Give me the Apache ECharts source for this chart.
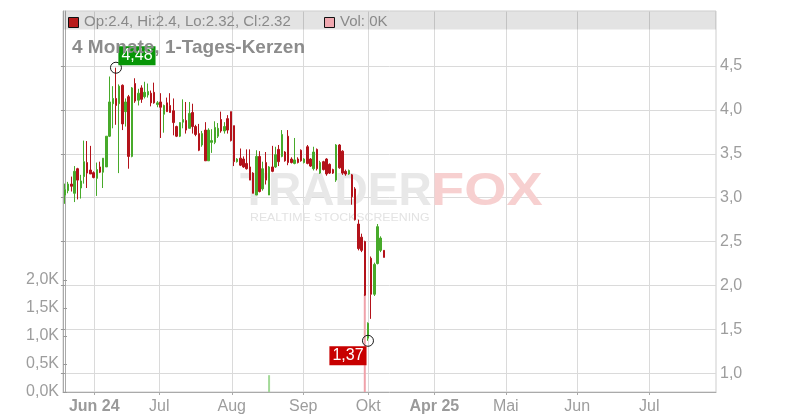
<!DOCTYPE html>
<html><head><meta charset="utf-8">
<script src="https://cdn.jsdelivr.net/npm/echarts@6/dist/echarts.min.js"></script>
<style>html,body{margin:0;padding:0;background:#fff}#c{width:800px;height:420px}</style>
</head><body><div id="c"></div>
<script>
// ---- data (trading-day index = array position) ----
const opens = [3.03,3.08,3.155,3.05,3.33,3.11,3.24,3.40,3.315,3.285, 3.22,3.35,3.29,3.35,3.70,4.07,4.13,4.07,4.28,3.98, 4.15,3.47,4.30,4.11,4.25,4.15,4.17,4.19,4.20,4.06, 4.09,3.95,4.08,4.05,3.99,3.81,3.70,3.86,3.88,3.79, 3.97,3.81,3.73,3.60,3.77,3.42,3.63,3.63,3.70,3.89, 3.76,3.90,3.98,3.82,3.41,3.45,3.44,3.39,3.35,3.28, 3.03,3.47,3.10,3.40,3.03,3.35,3.35,3.55,3.47,3.52, 3.70,3.44,3.39,3.44,3.54,3.40,3.58,3.44,3.33,3.55, 3.28,3.41,3.44,3.38,3.32,3.20,3.60,3.53,3.30,3.27, 3.26,3.10,2.70,2.55,2.50,1.40,2.31,1.90,2.25,2.40, 2.4];
const closes = [3.09,3.155,3.13,3.30,3.20,3.19,3.41,3.28,3.27,3.23, 3.32,3.29,3.45,3.70,4.09,4.13,4.05,4.27,3.84,4.09, 3.47,4.25,4.10,4.19,4.12,4.20,4.21,4.08,4.08,4.08, 4.03,4.05,3.98,3.97,3.855,3.70,3.855,3.89,3.77,3.96, 3.81,3.72,3.54,3.73,3.42,3.77,3.65,3.80,3.79,3.76, 3.81,3.77,3.65,3.41,3.44,3.37,3.35,3.33,3.20,3.05, 3.47,3.07,3.33,3.20,3.35,3.30,3.49,3.41,3.72,3.42, 3.40,3.40,3.43,3.40,3.42,3.44,3.39,3.36,3.52,3.33, 3.40,3.32,3.27,3.28,3.28,3.60,3.34,3.28,3.27,3.31, 3.01,2.75,2.42,2.40,1.89,1.57,1.90,2.24,2.67,2.54, 2.32];
const lows = [2.93,3.05,3.07,2.95,2.98,2.99,3.16,3.11,3.27,3.22, 3.02,3.28,3.11,3.35,3.69,3.79,3.83,3.28,3.77,3.81, 3.33,3.46,4.08,4.05,4.08,4.13,4.14,4.04,4.07,4.03, 3.68,3.74,3.98,3.97,3.71,3.69,3.69,3.79,3.73,3.79, 3.73,3.70,3.53,3.58,3.42,3.42,3.51,3.61,3.68,3.74, 3.73,3.73,3.64,3.36,3.40,3.36,3.34,3.32,3.20,3.05, 3.03,3.06,3.08,3.15,3.03,3.29,3.34,3.36,3.46,3.41, 3.37,3.39,3.38,3.39,3.41,3.39,3.38,3.35,3.31,3.31, 3.27,3.31,3.25,3.27,3.27,3.18,3.33,3.26,3.25,3.26, 2.92,2.74,2.40,2.38,1.88,1.37,1.62,1.88,2.24,2.38, 2.32];
const highs = [3.16,3.18,3.24,3.36,3.34,3.26,3.65,3.645,3.59,3.30, 3.40,3.41,3.45,3.70,4.38,4.27,4.48,4.29,4.29,4.13, 4.17,4.26,4.36,4.24,4.28,4.32,4.30,4.22,4.31,4.10, 4.19,4.06,4.14,4.19,4.13,3.82,3.86,4.12,4.09,4.09, 4.07,3.83,3.84,3.76,3.86,3.79,3.78,3.87,3.85,3.98, 3.86,3.94,3.98,3.82,3.45,3.56,3.47,3.55,3.55,3.29, 3.54,3.53,3.41,3.52,3.36,3.59,3.58,3.60,3.77,3.53, 3.77,3.46,3.68,3.46,3.55,3.45,3.60,3.45,3.58,3.56, 3.42,3.42,3.45,3.39,3.33,3.61,3.61,3.54,3.32,3.32, 3.27,3.12,2.75,2.59,2.51,1.58,2.33,2.26,2.70,2.56, 2.40];
const volumes = [0,0,0,0,0,0,0,0,0,0, 0,0,0,0,0,0,0,0,0,0, 0,0,0,0,0,0,0,0,0,0, 0,0,0,0,0,0,0,0,0,0, 0,0,0,0,0,0,0,0,0,0, 0,0,0,0,0,0,0,0,0,0, 0,0,0,0,300,0,0,0,0,0, 0,0,0,0,0,0,0,0,0,0, 0,0,0,0,0,0,0,0,0,0, 0,0,0,0,1750,0,0,0,0,0, 0];
const monthTickIdx = [9.2, 29.6, 52.3, 74.7, 95.1, 115.8, 138.2, 160.6, 183.2];
const monthTickLabels = ['Jun 24','Jul','Aug','Sep','Okt','Apr 25','Mai','Jun','Jul'];
const priceTicks = [1.0,1.5,2.0,2.5,3.0,3.5,4.0,4.5];
const volumeTicks = [0,500,1000,1500,2000];
const titleText = '4 Monate, 1-Tages-Kerzen';

// ---- chart ----
const FONT = '"Liberation Sans", Arial, Helvetica, sans-serif';
const RED = '#b3121a', GREEN = '#47aa2a';
const chart = echarts.init(document.getElementById('c'), null, {renderer:'canvas'});
const last = opens.length - 1;
const candleData = opens.map((o,i)=>[i, o, closes[i], lows[i], highs[i]]);
const volData = volumes.map((v,i)=>({value:[i, v], itemStyle:{color: closes[i] >= opens[i] ? '#a3da98' : '#f0a2aa'}}));
const hiVal = Math.max(...highs), hiIdx = highs.indexOf(hiVal);
const loVal = Math.min(...lows), loIdx = lows.indexOf(loVal);
const comma = (v, d) => v.toFixed(d).replace('.', ',');
const legendText = 'Op:' + opens[last] + ', Hi:' + highs[last] + ', Lo:' + lows[last] + ', Cl:' + closes[last];
const volText = 'Vol: ' + (volumes[last]/1000) + 'K';

const option = {
  animation: false,
  backgroundColor: '#fff',
  textStyle: {fontFamily: FONT},
  grid: {left:63, right:84, top:11, bottom:28, show:true, borderColor:'#cdcdcd', borderWidth:1, backgroundColor:'transparent'},
  xAxis: {
    type:'value', min:-0.6, max:204.1,
    axisLine:{show:true, lineStyle:{color:'#aaa'}},
    axisTick:{show:true, customValues: monthTickIdx, length:3, lineStyle:{color:'#aaa'}},
    axisLabel:{customValues: monthTickIdx, margin:7, color:'#9d9d9d', fontSize:16, fontFamily:FONT,
      formatter: v => { let k = 0, best = 1e9; monthTickIdx.forEach((t,j)=>{ if (Math.abs(t-v) < best){best=Math.abs(t-v); k=j;} });
        const s = monthTickLabels[k]; return /\d/.test(s) ? '{b|' + s + '}' : s; },
      rich:{b:{fontWeight:'bold', color:'#9a9a9a', fontSize:16, fontFamily:FONT}}},
    splitLine:{show:true, lineStyle:{color:'#dadada', width:1}}
  },
  yAxis: [
    {type:'value', position:'right', min:0.787, max:5.126,
      axisLine:{show:true, lineStyle:{color:'#aaa'}},
      axisTick:{show:true, inside:true, length:4, customValues: priceTicks, lineStyle:{color:'#999'}},
      axisLabel:{customValues: priceTicks, margin:4, color:'#9d9d9d', fontSize:16, fontFamily:FONT, formatter: v => comma(v,1)},
      splitLine:{show:true, lineStyle:{color:'#dadada', width:1}}},
    {type:'value', position:'left', min:0, max:6800,
      axisLine:{show:true, lineStyle:{color:'#aaa'}},
      axisTick:{show:true, inside:true, length:4, customValues: volumeTicks, lineStyle:{color:'#999'}},
      axisLabel:{customValues: volumeTicks, margin:4, color:'#9d9d9d', fontSize:16, fontFamily:FONT, formatter: v => comma(v/1000,1) + 'K'},
      splitLine:{show:false}}
  ],
  series: [
    {type:'bar', xAxisIndex:0, yAxisIndex:1, barWidth:2, data: volData, z:2},
    {type:'candlestick', xAxisIndex:0, yAxisIndex:0, barWidth:2, encode:{x:0, y:[1,2,3,4]},
      itemStyle:{color:GREEN, color0:RED, borderColor:GREEN, borderColor0:RED, borderWidth:1},
      data: candleData, z:3},
    {type:'scatter', xAxisIndex:0, yAxisIndex:0, symbol:'circle', symbolSize:11, z:6,
      itemStyle:{color:'rgba(255,255,255,0)', borderColor:'#1a1a1a', borderWidth:1, opacity:1},
      label:{show:true, position:'inside', color:'#fff', opacity:1, fontSize:16, fontFamily:FONT, padding:[1,3,0,3], lineHeight:18},
      data:[
        {value:[hiIdx, hiVal], label:{formatter: comma(hiVal,2), offset:[21,-12], backgroundColor:'#079607'}},
        {value:[loIdx, loVal], label:{formatter: comma(loVal,2), offset:[-20,15], backgroundColor:'#c80000'}}
      ]}
  ],
  graphic: [
    {type:'text', x:240, y:215, z:1, silent:true, style:{text:'TRADER', font:'bold 46px ' + FONT, fill:'#e8e8e8', textVerticalAlign:'bottom', verticalAlign:'bottom'}},
    {type:'text', x:431, y:215, z:1, silent:true, scaleX:1.18, style:{text:'FOX', font:'bold 46px ' + FONT, fill:'#f7d0d0', textVerticalAlign:'bottom', verticalAlign:'bottom'}},
    {type:'text', x:250, y:218, z:1, silent:true, scaleX:1.12, style:{text:'REALTIME STOCKSCREENING', font:'11px ' + FONT, fill:'#e3e3e3', textVerticalAlign:'middle', verticalAlign:'middle'}},
    {type:'rect', z:10, silent:true, shape:{x:63.5, y:11.5, width:652.5, height:18}, style:{fill:'rgba(0,0,0,0.11)'}},
    {type:'rect', z:11, silent:true, shape:{x:68.5, y:17.5, width:10, height:10}, style:{fill:'#b81b1b', stroke:'#111', lineWidth:1}},
    {type:'text', z:11, silent:true, x:84, y:22, style:{text:legendText, font:'15px ' + FONT, fill:'#8a8a8a', textVerticalAlign:'middle', verticalAlign:'middle'}},
    {type:'rect', z:11, silent:true, shape:{x:324.5, y:17.5, width:10, height:10}, style:{fill:'#f0a8b0', stroke:'#111', lineWidth:1}},
    {type:'text', z:11, silent:true, x:340, y:22, style:{text:volText, font:'15px ' + FONT, fill:'#8a8a8a', textVerticalAlign:'middle', verticalAlign:'middle'}},
    {type:'text', z:11, silent:true, x:72, y:48, style:{text:titleText, font:'bold 19px ' + FONT, fill:'#8c8c8c', textVerticalAlign:'middle', verticalAlign:'middle'}}
  ]
};
chart.setOption(option);
</script>
</body></html>
